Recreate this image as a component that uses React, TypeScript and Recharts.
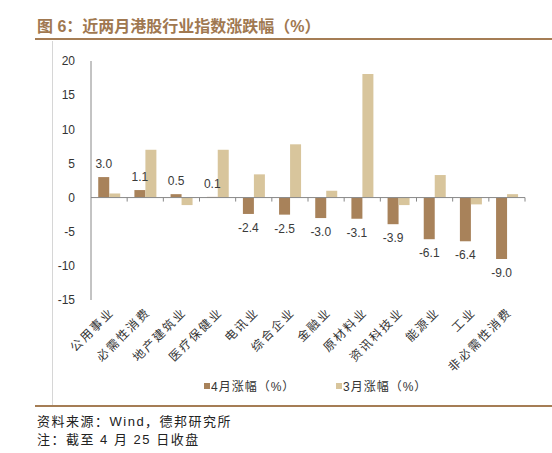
import React from 'react';
import { BarChart, Bar, XAxis, YAxis, ReferenceLine, LabelList } from 'recharts';

const categories = [
  '公用事业',
  '必需性消费',
  '地产建筑业',
  '医疗保健业',
  '电讯业',
  '综合企业',
  '金融业',
  '原材料业',
  '资讯科技业',
  '能源业',
  '工业',
  '非必需性消费',
];
const aprilChange = [3.0, 1.1, 0.5, 0.1, -2.4, -2.5, -3.0, -3.1, -3.9, -6.1, -6.4, -9.0];
const marchChange = [0.6, 7.0, -1.1, 7.0, 3.4, 7.8, 1.0, 18.1, -1.1, 3.3, -1.0, 0.5];
const yTicks = [-15, -10, -5, 0, 5, 10, 15, 20];

const BROWN = '#a8825a';
const TAN = '#d8c59c';
const LINE = '#a57d55';
const FONT = '"Liberation Sans", Arial, "Noto Sans CJK SC", sans-serif';

const data = categories.map((name, i) => ({
  name,
  april: aprilChange[i],
  march: marchChange[i],
}));

// 类目标签：斜45度
const CategoryTick = ({ x, y, payload }: any) => (
  <g transform={`translate(${x + 3},${y + 2})`}>
    <text
      textAnchor="end"
      transform="rotate(-45)"
      dy={4}
      fontSize={12}
      fill="#333"
      letterSpacing={2}
      fontFamily={FONT}
    >
      {payload.value}
    </text>
  </g>
);

// 零轴 + 类目分隔刻度
const ZeroLine = (props: any) => {
  const { x1, y1, x2, y2 } = props;
  const step = (x2 - x1) / categories.length;
  return (
    <g>
      <line x1={x1} y1={y1} x2={x2} y2={y2} stroke="#888" strokeWidth={1} />
      {categories.map((_, i) => (
        <line
          key={i}
          x1={x1 + step * (i + 1)}
          x2={x1 + step * (i + 1)}
          y1={y1}
          y2={y1 + 4}
          stroke="#888"
          strokeWidth={1}
        />
      ))}
    </g>
  );
};

const ValueLabel = (props: any) => {
  const vb = props.viewBox || props;
  const { x, y, width, height } = vb;
  const value = Number(props.value);
  const top = Math.min(y, y + height);
  const bottom = Math.max(y, y + height);
  const ly = value >= 0 ? top - 13 : bottom + 14;
  return (
    <text
      x={x + width / 2}
      y={ly}
      textAnchor="middle"
      dominantBaseline="central"
      fontSize={12}
      fill="#3a3a3a"
      fontFamily={FONT}
    >
      {value.toFixed(1)}
    </text>
  );
};

const LegendItem = ({ color, label, left }: { color: string; label: string; left: number }) => (
  <div style={{ position: 'absolute', left, top: 377, display: 'flex', alignItems: 'center' }}>
    <span style={{ width: 6, height: 6, background: color, display: 'inline-block', marginRight: 1 }} />
    <span style={{ fontSize: 12, color: '#333', letterSpacing: 1 }}>{label}</span>
  </div>
);

export default function App() {
  return (
    <div
      style={{
        position: 'absolute',
        left: 0,
        top: 0,
        width: 552,
        height: 453,
        background: '#fff',
        fontFamily: FONT,
        overflow: 'hidden',
      }}
    >
      <div
        style={{
          position: 'absolute',
          left: 37,
          top: 13,
          fontSize: 16,
          fontWeight: 'bold',
          color: '#a07850',
          whiteSpace: 'nowrap',
        }}
      >
        图 6：近两月港股行业指数涨跌幅（%）
      </div>
      <div style={{ position: 'absolute', left: 35, top: 38, width: 517, height: 2, background: LINE }} />
      <div style={{ position: 'absolute', left: 52, top: 41, width: 1, height: 365, background: '#d6d6d6' }} />

      <div style={{ position: 'absolute', left: 0, top: 0 }}>
        <BarChart
          width={552}
          height={453}
          data={data}
          margin={{ top: 61, right: 27, left: 50, bottom: 73 }}
          barGap={0}
          barCategoryGap="20%"
        >
          <XAxis
            dataKey="name"
            height={80}
            axisLine={false}
            tickLine={false}
            interval={0}
            tick={<CategoryTick />}
          />
          <YAxis
            width={41}
            domain={[-15, 20]}
            ticks={yTicks}
            interval={0}
            axisLine={{ stroke: '#888' }}
            tickLine={false}
            tickMargin={10}
            tick={{ fontSize: 12, fill: '#333', fontFamily: FONT }}
          />
          <ReferenceLine y={0} shape={<ZeroLine />} />
          <Bar dataKey="april" name="4月涨幅（%）" fill={BROWN} isAnimationActive={false}>
            <LabelList dataKey="april" content={<ValueLabel />} />
          </Bar>
          <Bar dataKey="march" name="3月涨幅（%）" fill={TAN} isAnimationActive={false} />
        </BarChart>
      </div>

      <LegendItem color={BROWN} label="4月涨幅（%）" left={204} />
      <LegendItem color={TAN} label="3月涨幅（%）" left={336} />

      <div style={{ position: 'absolute', left: 35, top: 405, width: 517, height: 2, background: LINE }} />
      <div style={{ position: 'absolute', left: 37, top: 411, fontSize: 13, color: '#222', letterSpacing: 1.5 }}>
        资料来源：Wind，德邦研究所
      </div>
      <div style={{ position: 'absolute', left: 37, top: 429, fontSize: 13, color: '#222', letterSpacing: 1.5 }}>
        注：截至 4 月 25 日收盘
      </div>
    </div>
  );
}
